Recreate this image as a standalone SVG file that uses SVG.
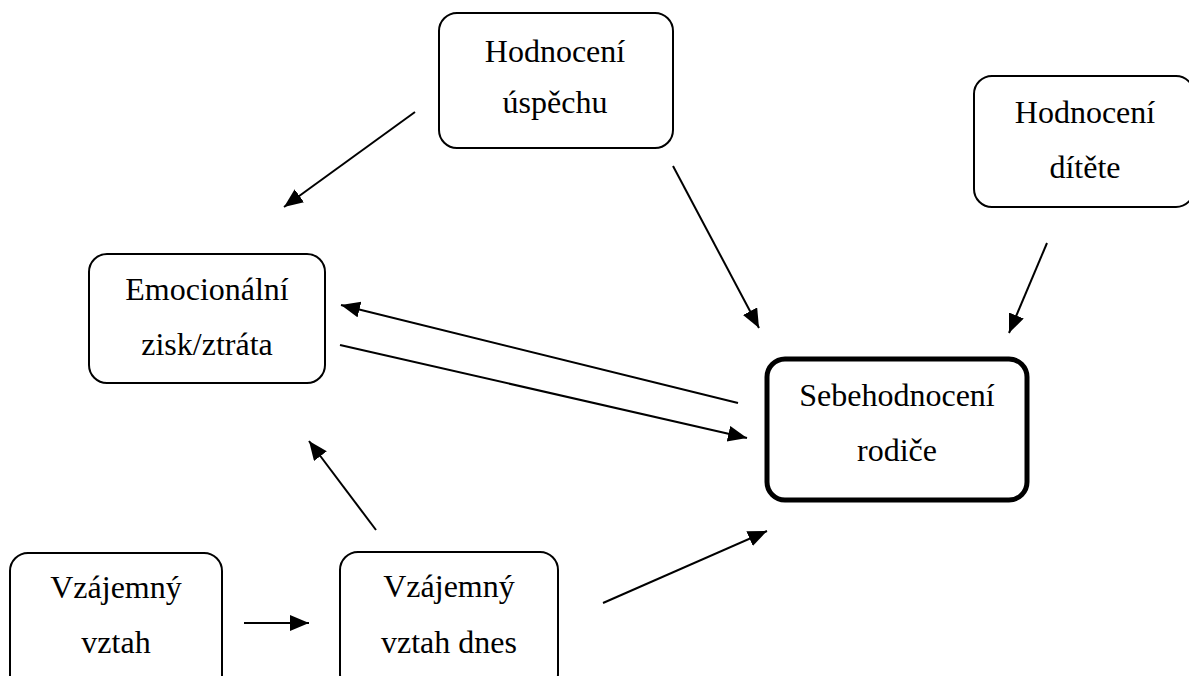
<svg xmlns="http://www.w3.org/2000/svg" width="1189" height="676" viewBox="0 0 1189 676">
<style>
.box{fill:#fff;stroke:#000;stroke-width:2}
.thick{fill:#fff;stroke:#000;stroke-width:5}
text{font-family:'Liberation Serif','Times New Roman','DejaVu Serif',serif;font-size:32px;fill:#000;text-anchor:middle}
.c{stroke:#000;stroke-width:2;fill:none;marker-end:url(#ah)}
</style>
<defs>
<marker id="ah" markerUnits="userSpaceOnUse" markerWidth="22" markerHeight="18" refX="19" refY="8" orient="auto">
<path d="M0,0 L19,8 L0,16 Z" fill="#000"/>
</marker>
</defs>
<rect width="1189" height="676" fill="#fff"/>
<g id="connectors">
<line class="c" x1="415" y1="112" x2="284" y2="207"/>
<line class="c" x1="673" y1="166" x2="759" y2="328"/>
<line class="c" x1="1047" y1="243" x2="1009" y2="333"/>
<line class="c" x1="738" y1="403" x2="341" y2="305"/>
<line class="c" x1="340" y1="345" x2="747" y2="438"/>
<line class="c" x1="376" y1="530" x2="309" y2="441"/>
<line class="c" x1="244" y1="623" x2="309" y2="623"/>
<line class="c" x1="603" y1="603" x2="767" y2="531"/>
</g>
<g id="n-uspech">
<rect class="box" x="439" y="13" width="234" height="135" rx="18"/>
<text x="555" y="62" font-family="Liberation Serif, serif" font-size="32" text-anchor="middle">Hodnocení</text>
<text x="555" y="113" font-family="Liberation Serif, serif" font-size="32" text-anchor="middle">úspěchu</text>
</g>
<g id="n-dite">
<rect class="box" x="974" y="76" width="220" height="131" rx="18"/>
<text x="1085" y="123" font-family="Liberation Serif, serif" font-size="32" text-anchor="middle">Hodnocení</text>
<text x="1085" y="178" font-family="Liberation Serif, serif" font-size="32" text-anchor="middle">dítěte</text>
</g>
<g id="n-emoce">
<rect class="box" x="89" y="254" width="236" height="129" rx="18"/>
<text x="207" y="300" font-family="Liberation Serif, serif" font-size="32" text-anchor="middle">Emocionální</text>
<text x="207" y="355" font-family="Liberation Serif, serif" font-size="32" text-anchor="middle">zisk/ztráta</text>
</g>
<g id="n-rodic">
<rect class="thick" x="767" y="359" width="260" height="141" rx="18"/>
<text x="897" y="406" font-family="Liberation Serif, serif" font-size="32" text-anchor="middle">Sebehodnocení</text>
<text x="897" y="461" font-family="Liberation Serif, serif" font-size="32" text-anchor="middle">rodiče</text>
</g>
<g id="n-vztah">
<rect class="box" x="10" y="553" width="212" height="140" rx="18"/>
<text x="116" y="598" font-family="Liberation Serif, serif" font-size="32" text-anchor="middle">Vzájemný</text>
<text x="116" y="653" font-family="Liberation Serif, serif" font-size="32" text-anchor="middle">vztah</text>
</g>
<g id="n-vztah-dnes">
<rect class="box" x="340" y="552" width="218" height="140" rx="18"/>
<text x="449" y="597" font-family="Liberation Serif, serif" font-size="32" text-anchor="middle">Vzájemný</text>
<text x="449" y="653" font-family="Liberation Serif, serif" font-size="32" text-anchor="middle">vztah dnes</text>
</g>
</svg>
